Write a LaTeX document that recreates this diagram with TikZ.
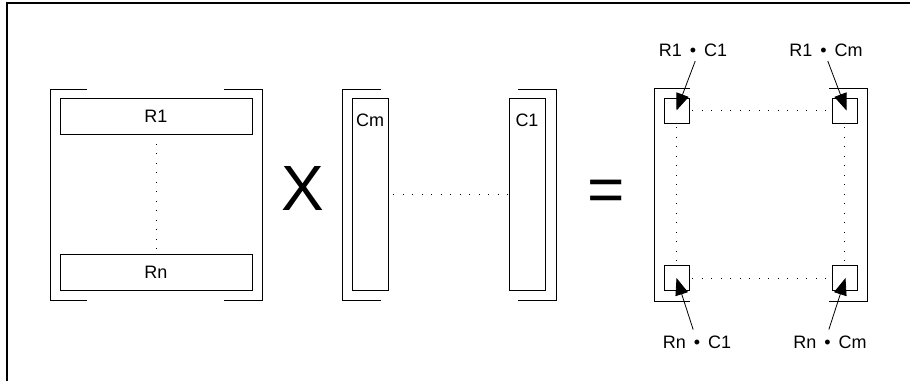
\documentclass[tikz,border=0pt]{standalone}
\usepackage{fontspec}
\setmainfont{Liberation Sans}
\usetikzlibrary{arrows.meta, positioning}

\begin{document}
\begin{tikzpicture}[
  x=1pt, y=-1pt,
  rowbox/.style={draw, line width=0.8pt, minimum width=192pt, minimum height=36pt,
                 inner sep=0pt, font=\fontsize{18}{20}\selectfont},
  colbox/.style={draw, line width=0.8pt, minimum width=36pt, minimum height=192pt, inner sep=0pt},
  cell/.style={draw, line width=0.8pt, minimum size=25pt, inner sep=0pt},
  txt/.style={inner sep=0pt, font=\fontsize{18}{20}\selectfont},
  big/.style={inner sep=0pt, font=\fontsize{64}{70}\selectfont},
  brk/.style={line width=1pt},
  dots/.style={line width=0.9pt, dash pattern=on 0.9pt off 8.6pt},
  arr/.style={-{Triangle[length=17pt, width=13pt]}, line width=0.8pt},
  font=\fontsize{18}{20}\selectfont
]
  \useasboundingbox (0,0) rectangle (910,381);
  % frame
  \draw[line width=1.6pt] (910,3) -- (7,3) -- (7,381);

  % first matrix (rows)
  \draw[brk] (87,89) -- (50,89) -- (50,300) -- (87,300);
  \draw[brk] (224,89) -- (262,89) -- (262,300) -- (224,300);
  \node[rowbox] (r1) at (156,116) {R1};
  \node[rowbox] (rn) at (156,272.5) {Rn};
  \draw[dots] (r1) -- (rn);

  \node[big] (times) at (303,188) {X};

  % second matrix (columns)
  \draw[brk] (381,89) -- (342,89) -- (342,300) -- (381,300);
  \draw[brk] (518,89) -- (556,89) -- (556,300) -- (518,300);
  \node[colbox] (cm) at (370,194) {};
  \node[colbox] (c1) at (527.5,194) {};
  \node[txt, anchor=base] (cmlbl) at (370,126) {Cm};
  \node[txt, anchor=base] (c1lbl) at (527,126) {C1};
  \draw[dots, shorten <=5pt] (cm) -- (c1);

  \node[big] (equals) at (606,196) {=};

  % result matrix
  \draw[brk] (690,88) -- (654,88) -- (654,301) -- (690,301);
  \draw[brk] (829,88) -- (867,88) -- (867,301) -- (829,301);
  \node[cell] (s11) at (676.5,110.5) {};
  \node[cell] (s1m) at (844.5,110.5) {};
  \node[cell] (sn1) at (676.5,278) {};
  \node[cell] (snm) at (844.5,278) {};
  \draw[dots, shorten <=3pt] (s11) -- (s1m);
  \draw[dots, shorten <=3pt] (sn1) -- (snm);
  \draw[dots, shorten <=4pt] (s11) -- (sn1);
  \draw[dots, shorten <=4pt] (s1m) -- (snm);

  \node[txt, anchor=base] (l11) at (693,56) {R1 \,•\, C1};
  \node[txt, anchor=base] (l1m) at (826,56) {R1 \,•\, Cm};
  \node[txt, anchor=base] (ln1) at (697,348) {Rn \,•\, C1};
  \node[txt, anchor=base] (lnm) at (830,348) {Rn \,•\, Cm};

  \draw[arr, shorten <=5pt] ([xshift=4pt]l11.south) -- (s11.center);
  \draw[arr, shorten <=5pt] (l1m.south) -- ([xshift=2pt]s1m.center);
  \draw[arr, shorten <=6pt] ([xshift=-2pt]ln1.north) -- (sn1.center);
  \draw[arr, shorten <=6pt] ([xshift=-3pt]lnm.north) -- ([xshift=1pt]snm.center);
\end{tikzpicture}
\end{document}
